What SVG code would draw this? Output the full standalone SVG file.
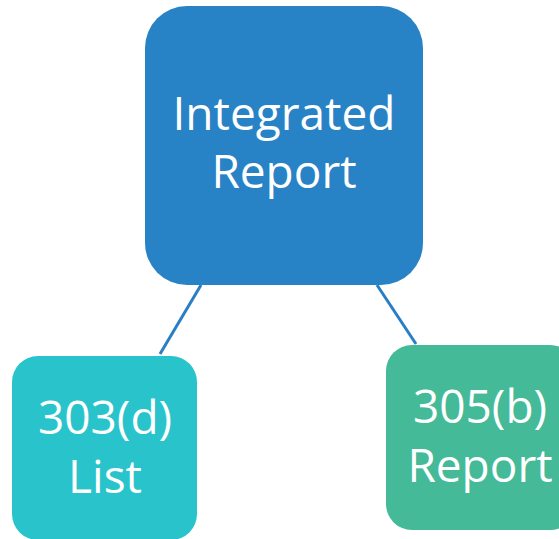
<svg xmlns="http://www.w3.org/2000/svg" width="559" height="539" viewBox="0 0 559 539">
<style>
.t{font-family:"Open Sans","Noto Sans",sans-serif;fill:#fff;text-anchor:middle}
.c{stroke:#2A7FC4;stroke-width:3;fill:none}
</style>
<rect width="559" height="539" fill="#fff"/>
<g id="connectors">
<line class="c" x1="201" y1="285" x2="160" y2="354"/>
<line class="c" x1="377" y1="285" x2="416" y2="344"/>
</g>
<g id="integrated">
<rect x="145" y="6" width="278" height="279" rx="42" fill="#2882C6"/>
<text class="t" x="284" y="130" font-size="46">Integrated</text>
<text class="t" x="284" y="188" font-size="46">Report</text>
</g>
<g id="list303">
<rect x="12" y="356" width="185" height="184" rx="26" fill="#29C4CB"/>
<text class="t" x="105" y="434" font-size="46">303(d)</text>
<text class="t" x="105" y="493" font-size="46">List</text>
</g>
<g id="report305">
<rect x="386" y="345" width="190" height="185" rx="26" fill="#44BA98"/>
<text class="t" x="480" y="423" font-size="46">305(b)</text>
<text class="t" x="480" y="482" font-size="46">Report</text>
</g>
</svg>
